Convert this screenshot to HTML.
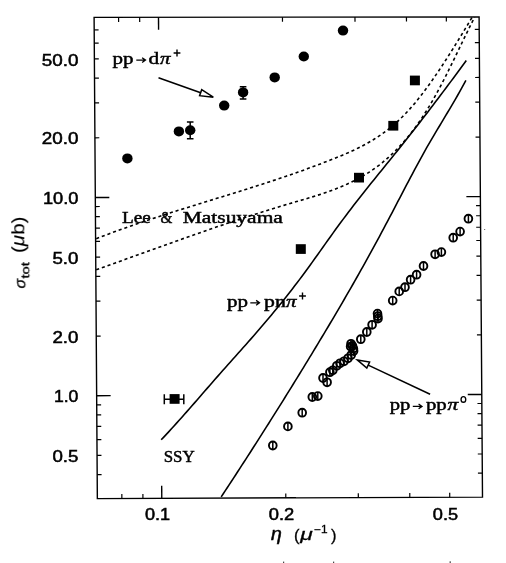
<!DOCTYPE html><html><head><meta charset="utf-8"><style>html,body{margin:0;padding:0;background:#fff;}svg{display:block;}</style></head><body><svg width="506" height="563" viewBox="0 0 506 563">
<defs><filter id="b" x="0" y="0" width="506" height="563" filterUnits="userSpaceOnUse"><feGaussianBlur stdDeviation="0.4"/></filter></defs>
<rect width="506" height="563" fill="#fff"/>
<g filter="url(#b)">
<g fill="none" stroke="#000" stroke-linecap="butt">
<polygon points="94.10,17.40 479.10,16.90 482.50,497.10 97.35,498.60" stroke-width="1.4"/>
<line x1="94.18" y1="29.91" x2="98.58" y2="29.91" stroke-width="1.2"/>
<line x1="479.19" y1="29.39" x2="474.79" y2="29.39" stroke-width="1.2"/>
<line x1="94.27" y1="43.19" x2="98.67" y2="43.18" stroke-width="1.2"/>
<line x1="479.28" y1="42.63" x2="474.88" y2="42.64" stroke-width="1.2"/>
<line x1="94.38" y1="58.89" x2="98.78" y2="58.88" stroke-width="1.2"/>
<line x1="479.39" y1="58.30" x2="474.99" y2="58.31" stroke-width="1.2"/>
<line x1="94.51" y1="78.10" x2="98.91" y2="78.09" stroke-width="1.2"/>
<line x1="479.53" y1="77.47" x2="475.13" y2="77.48" stroke-width="1.2"/>
<line x1="94.68" y1="102.87" x2="99.08" y2="102.86" stroke-width="1.2"/>
<line x1="479.70" y1="102.19" x2="475.30" y2="102.20" stroke-width="1.2"/>
<line x1="94.91" y1="137.78" x2="99.31" y2="137.77" stroke-width="1.2"/>
<line x1="479.95" y1="137.03" x2="475.55" y2="137.04" stroke-width="1.2"/>
<line x1="95.38" y1="206.53" x2="99.78" y2="206.52" stroke-width="1.2"/>
<line x1="480.44" y1="205.64" x2="476.04" y2="205.65" stroke-width="1.2"/>
<line x1="95.45" y1="216.68" x2="99.85" y2="216.67" stroke-width="1.2"/>
<line x1="480.51" y1="215.76" x2="476.11" y2="215.77" stroke-width="1.2"/>
<line x1="95.52" y1="228.17" x2="99.92" y2="228.16" stroke-width="1.2"/>
<line x1="480.59" y1="227.24" x2="476.19" y2="227.25" stroke-width="1.2"/>
<line x1="95.61" y1="241.45" x2="100.01" y2="241.44" stroke-width="1.2"/>
<line x1="480.68" y1="240.48" x2="476.28" y2="240.49" stroke-width="1.2"/>
<line x1="95.72" y1="257.14" x2="100.12" y2="257.13" stroke-width="1.2"/>
<line x1="480.79" y1="256.15" x2="476.39" y2="256.16" stroke-width="1.2"/>
<line x1="95.85" y1="276.36" x2="100.25" y2="276.35" stroke-width="1.2"/>
<line x1="480.93" y1="275.32" x2="476.53" y2="275.33" stroke-width="1.2"/>
<line x1="96.02" y1="301.13" x2="100.42" y2="301.12" stroke-width="1.2"/>
<line x1="481.10" y1="300.04" x2="476.70" y2="300.05" stroke-width="1.2"/>
<line x1="96.25" y1="336.04" x2="100.65" y2="336.03" stroke-width="1.2"/>
<line x1="481.35" y1="334.88" x2="476.95" y2="334.89" stroke-width="1.2"/>
<line x1="96.72" y1="404.79" x2="101.12" y2="404.78" stroke-width="1.2"/>
<line x1="481.84" y1="403.49" x2="477.44" y2="403.50" stroke-width="1.2"/>
<line x1="96.78" y1="414.93" x2="101.19" y2="414.92" stroke-width="1.2"/>
<line x1="481.91" y1="413.61" x2="477.51" y2="413.62" stroke-width="1.2"/>
<line x1="96.86" y1="426.43" x2="101.26" y2="426.42" stroke-width="1.2"/>
<line x1="481.99" y1="425.08" x2="477.59" y2="425.10" stroke-width="1.2"/>
<line x1="96.95" y1="439.70" x2="101.35" y2="439.69" stroke-width="1.2"/>
<line x1="482.08" y1="438.33" x2="477.68" y2="438.34" stroke-width="1.2"/>
<line x1="97.06" y1="455.40" x2="101.46" y2="455.39" stroke-width="1.2"/>
<line x1="482.19" y1="453.99" x2="477.79" y2="454.01" stroke-width="1.2"/>
<line x1="97.19" y1="474.62" x2="101.59" y2="474.60" stroke-width="1.2"/>
<line x1="482.33" y1="473.17" x2="477.93" y2="473.18" stroke-width="1.2"/>
<line x1="95.32" y1="197.46" x2="109.32" y2="197.43" stroke-width="1.4"/>
<line x1="480.37" y1="196.59" x2="466.37" y2="196.62" stroke-width="1.4"/>
<line x1="96.66" y1="395.72" x2="110.66" y2="395.67" stroke-width="1.4"/>
<line x1="481.77" y1="394.44" x2="467.77" y2="394.48" stroke-width="1.4"/>
<line x1="118.59" y1="17.37" x2="118.62" y2="21.97" stroke-width="1.2"/>
<line x1="121.85" y1="498.50" x2="121.82" y2="494.11" stroke-width="1.2"/>
<line x1="139.66" y1="17.34" x2="139.69" y2="21.94" stroke-width="1.2"/>
<line x1="142.92" y1="498.42" x2="142.89" y2="494.02" stroke-width="1.2"/>
<line x1="282.46" y1="17.16" x2="282.50" y2="21.75" stroke-width="1.2"/>
<line x1="285.79" y1="497.87" x2="285.76" y2="493.47" stroke-width="1.2"/>
<line x1="354.98" y1="17.06" x2="355.01" y2="21.65" stroke-width="1.2"/>
<line x1="358.33" y1="497.58" x2="358.30" y2="493.19" stroke-width="1.2"/>
<line x1="406.43" y1="16.99" x2="406.46" y2="21.59" stroke-width="1.2"/>
<line x1="409.80" y1="497.38" x2="409.77" y2="492.99" stroke-width="1.2"/>
<line x1="446.34" y1="16.94" x2="446.37" y2="21.53" stroke-width="1.2"/>
<line x1="449.72" y1="497.23" x2="449.69" y2="492.84" stroke-width="1.2"/>
<line x1="158.50" y1="17.32" x2="158.59" y2="29.81" stroke-width="1.4"/>
<line x1="161.78" y1="498.35" x2="161.69" y2="485.86" stroke-width="1.4"/>
<path d="M96.20,238.72 L99.36,237.50 L102.51,236.29 L105.67,235.09 L108.83,233.91 L111.99,232.74 L115.14,231.58 L118.30,230.43 L121.46,229.30 L124.61,228.17 L127.77,227.06 L130.93,225.95 L134.09,224.86 L137.24,223.77 L140.40,222.70 L143.56,221.63 L146.71,220.57 L149.87,219.52 L153.03,218.48 L156.19,217.44 L159.34,216.41 L162.50,215.39 L165.66,214.37 L168.81,213.36 L171.97,212.36 L175.13,211.36 L178.29,210.36 L181.44,209.37 L184.60,208.38 L187.76,207.39 L190.91,206.41 L194.07,205.43 L197.23,204.45 L200.39,203.48 L203.54,202.50 L206.70,201.53 L209.86,200.56 L213.01,199.58 L216.17,198.61 L219.33,197.64 L222.49,196.66 L225.64,195.69 L228.80,194.71 L231.96,193.73 L235.11,192.75 L238.27,191.76 L241.43,190.77 L244.59,189.78 L247.74,188.79 L250.90,187.79 L254.06,186.78 L257.21,185.77 L260.37,184.76 L263.53,183.74 L266.69,182.71 L269.84,181.67 L273.00,180.63 L276.16,179.58 L279.31,178.53 L282.47,177.46 L285.63,176.39 L288.79,175.30 L291.94,174.21 L295.10,173.11 L298.26,172.00 L301.41,170.88 L304.57,169.74 L307.73,168.60 L310.89,167.44 L314.04,166.27 L317.20,165.09 L320.36,163.90 L323.51,162.69 L326.67,161.47 L329.83,160.24 L332.99,158.99 L336.14,157.72 L339.30,156.44 L342.46,155.14 L345.61,153.80 L348.77,152.43 L351.93,151.01 L355.09,149.54 L358.24,148.02 L361.40,146.43 L364.56,144.77 L367.71,143.03 L370.87,141.20 L374.03,139.28 L377.19,137.27 L380.34,135.15 L383.50,132.91 L386.66,130.56 L389.81,128.08 L392.97,125.47 L396.13,122.71 L399.29,119.82 L402.44,116.76 L405.60,113.55 L408.76,110.17 L411.91,106.62 L415.07,102.92 L418.23,99.05 L421.39,95.05 L424.54,90.90 L427.70,86.63 L430.86,82.24 L434.01,77.73 L437.17,73.12 L440.33,68.41 L443.49,63.61 L446.64,58.72 L449.80,53.77 L452.96,48.75 L456.11,43.67 L459.27,38.54 L462.43,33.37 L465.59,28.17 L468.74,22.94 L471.90,17.69" stroke-width="1.6" stroke-dasharray="3.1 2.9"/>
<path d="M96.20,269.68 L99.38,268.56 L102.56,267.44 L105.74,266.31 L108.92,265.18 L112.10,264.05 L115.28,262.91 L118.46,261.78 L121.64,260.64 L124.82,259.50 L128.00,258.36 L131.18,257.22 L134.36,256.08 L137.54,254.94 L140.72,253.80 L143.90,252.66 L147.08,251.52 L150.26,250.37 L153.44,249.23 L156.62,248.09 L159.80,246.95 L162.98,245.82 L166.16,244.68 L169.34,243.54 L172.52,242.41 L175.70,241.28 L178.88,240.15 L182.06,239.02 L185.24,237.90 L188.42,236.78 L191.59,235.66 L194.77,234.54 L197.95,233.43 L201.13,232.32 L204.31,231.22 L207.49,230.12 L210.67,229.02 L213.85,227.93 L217.03,226.85 L220.21,225.76 L223.39,224.69 L226.57,223.61 L229.75,222.55 L232.93,221.49 L236.11,220.43 L239.29,219.38 L242.47,218.34 L245.65,217.31 L248.83,216.28 L252.01,215.25 L255.19,214.24 L258.37,213.23 L261.55,212.22 L264.73,211.22 L267.91,210.23 L271.09,209.25 L274.27,208.27 L277.45,207.30 L280.63,206.33 L283.81,205.37 L286.99,204.42 L290.17,203.47 L293.35,202.53 L296.53,201.59 L299.71,200.66 L302.89,199.72 L306.07,198.78 L309.25,197.83 L312.43,196.86 L315.61,195.88 L318.79,194.87 L321.97,193.83 L325.15,192.76 L328.33,191.65 L331.51,190.51 L334.69,189.31 L337.87,188.07 L341.05,186.77 L344.23,185.42 L347.41,184.00 L350.59,182.51 L353.77,180.95 L356.95,179.31 L360.13,177.58 L363.31,175.77 L366.49,173.85 L369.67,171.83 L372.85,169.69 L376.03,167.44 L379.21,165.06 L382.38,162.56 L385.56,159.91 L388.74,157.12 L391.92,154.19 L395.10,151.09 L398.28,147.84 L401.46,144.41 L404.64,140.81 L407.82,137.03 L411.00,133.06 L414.18,128.89 L417.36,124.53 L420.54,119.95 L423.72,115.16 L426.90,110.14 L430.08,104.90 L433.26,99.43 L436.44,93.73 L439.62,87.84 L442.80,81.76 L445.98,75.54 L449.16,69.19 L452.34,62.73 L455.52,56.18 L458.70,49.59 L461.88,42.99 L465.06,36.41 L468.24,29.89 L471.42,23.47 L474.60,17.19" stroke-width="1.6" stroke-dasharray="3.1 2.9"/>
<path d="M161.20,439.82 L163.76,437.10 L166.33,434.36 L168.89,431.59 L171.46,428.79 L174.02,425.97 L176.58,423.14 L179.15,420.28 L181.71,417.41 L184.27,414.52 L186.84,411.62 L189.40,408.70 L191.97,405.78 L194.53,402.85 L197.09,399.91 L199.66,396.97 L202.22,394.02 L204.79,391.08 L207.35,388.13 L209.91,385.19 L212.48,382.26 L215.04,379.33 L217.61,376.40 L220.17,373.49 L222.73,370.59 L225.30,367.70 L227.86,364.82 L230.42,361.94 L232.99,359.06 L235.55,356.19 L238.12,353.31 L240.68,350.44 L243.24,347.55 L245.81,344.67 L248.37,341.77 L250.94,338.86 L253.50,335.94 L256.06,333.00 L258.63,330.04 L261.19,327.07 L263.75,324.07 L266.32,321.06 L268.88,318.01 L271.45,314.95 L274.01,311.86 L276.57,308.74 L279.14,305.59 L281.70,302.42 L284.27,299.22 L286.83,295.99 L289.39,292.72 L291.96,289.43 L294.52,286.11 L297.08,282.75 L299.65,279.36 L302.21,275.93 L304.78,272.47 L307.34,268.98 L309.90,265.45 L312.47,261.90 L315.03,258.32 L317.60,254.73 L320.16,251.13 L322.72,247.52 L325.29,243.91 L327.85,240.31 L330.42,236.72 L332.98,233.15 L335.54,229.59 L338.11,226.07 L340.67,222.58 L343.23,219.12 L345.80,215.70 L348.36,212.31 L350.93,208.94 L353.49,205.61 L356.05,202.30 L358.62,199.02 L361.18,195.75 L363.75,192.51 L366.31,189.28 L368.87,186.07 L371.44,182.87 L374.00,179.68 L376.56,176.50 L379.13,173.33 L381.69,170.16 L384.26,167.00 L386.82,163.83 L389.38,160.67 L391.95,157.50 L394.51,154.32 L397.08,151.13 L399.64,147.94 L402.20,144.73 L404.77,141.51 L407.33,138.28 L409.89,135.03 L412.46,131.77 L415.02,128.49 L417.59,125.20 L420.15,121.90 L422.71,118.58 L425.28,115.25 L427.84,111.91 L430.41,108.56 L432.97,105.20 L435.53,101.82 L438.10,98.44 L440.66,95.04 L443.23,91.64 L445.79,88.22 L448.35,84.80 L450.92,81.36 L453.48,77.92 L456.04,74.47 L458.61,71.01 L461.17,67.54 L463.74,64.06 L466.30,60.58" stroke-width="1.6"/>
<path d="M221.20,496.93 L223.26,493.80 L225.31,490.67 L227.37,487.54 L229.43,484.40 L231.48,481.25 L233.54,478.10 L235.59,474.94 L237.65,471.78 L239.71,468.62 L241.76,465.44 L243.82,462.27 L245.88,459.08 L247.93,455.90 L249.99,452.70 L252.04,449.50 L254.10,446.30 L256.16,443.09 L258.21,439.87 L260.27,436.65 L262.33,433.42 L264.38,430.18 L266.44,426.94 L268.49,423.70 L270.55,420.44 L272.61,417.18 L274.66,413.92 L276.72,410.65 L278.78,407.37 L280.83,404.09 L282.89,400.80 L284.95,397.50 L287.00,394.20 L289.06,390.89 L291.11,387.58 L293.17,384.25 L295.23,380.93 L297.28,377.59 L299.34,374.25 L301.40,370.90 L303.45,367.55 L305.51,364.18 L307.56,360.81 L309.62,357.44 L311.68,354.06 L313.73,350.67 L315.79,347.27 L317.85,343.86 L319.90,340.45 L321.96,337.03 L324.02,333.61 L326.07,330.17 L328.13,326.72 L330.18,323.27 L332.24,319.80 L334.30,316.32 L336.35,312.83 L338.41,309.34 L340.47,305.82 L342.52,302.30 L344.58,298.76 L346.63,295.21 L348.69,291.65 L350.75,288.07 L352.80,284.48 L354.86,280.88 L356.92,277.25 L358.97,273.61 L361.03,269.96 L363.08,266.29 L365.14,262.60 L367.20,258.90 L369.25,255.17 L371.31,251.43 L373.37,247.67 L375.42,243.89 L377.48,240.09 L379.54,236.27 L381.59,232.43 L383.65,228.58 L385.70,224.70 L387.76,220.82 L389.82,216.92 L391.87,213.01 L393.93,209.09 L395.99,205.17 L398.04,201.23 L400.10,197.30 L402.15,193.36 L404.21,189.42 L406.27,185.49 L408.32,181.57 L410.38,177.66 L412.44,173.78 L414.49,169.92 L416.55,166.08 L418.61,162.28 L420.66,158.51 L422.72,154.79 L424.77,151.10 L426.83,147.47 L428.89,143.89 L430.94,140.35 L433.00,136.84 L435.06,133.37 L437.11,129.92 L439.17,126.48 L441.22,123.06 L443.28,119.64 L445.34,116.21 L447.39,112.78 L449.45,109.34 L451.51,105.87 L453.56,102.37 L455.62,98.84 L457.67,95.27 L459.73,91.65 L461.79,87.98 L463.84,84.24 L465.90,80.44" stroke-width="1.6"/>
</g>
<g fill="#000" stroke="#000" stroke-width="1.5">
<ellipse cx="127.4" cy="158.4" rx="5.2" ry="5.0" stroke="none"/>
<ellipse cx="178.9" cy="131.4" rx="5.2" ry="5.0" stroke="none"/>
<ellipse cx="190.2" cy="130.2" rx="5.2" ry="5.0" stroke="none"/>
<path d="M190.2,121.9 V138.8 M186.9,121.9 h6.6 M186.9,138.8 h6.6" fill="none"/>
<ellipse cx="224.2" cy="105.6" rx="5.2" ry="5.0" stroke="none"/>
<ellipse cx="243.1" cy="92.4" rx="5.2" ry="5.0" stroke="none"/>
<path d="M243.1,86.7 V98.9 M239.8,86.7 h6.6 M239.8,98.9 h6.6" fill="none"/>
<ellipse cx="274.7" cy="77.4" rx="5.2" ry="5.0" stroke="none"/>
<ellipse cx="303.8" cy="56.5" rx="5.2" ry="5.0" stroke="none"/>
<ellipse cx="343.0" cy="30.6" rx="5.2" ry="5.0" stroke="none"/>
<rect x="295.8" y="244.2" width="10" height="9.7" stroke="none"/>
<rect x="354.0" y="172.8" width="10" height="9.7" stroke="none"/>
<rect x="388.3" y="120.9" width="10" height="9.7" stroke="none"/>
<rect x="409.9" y="75.6" width="10" height="9.7" stroke="none"/>
<rect x="169.6" y="394.1" width="10" height="9.7" stroke="none"/>
<path d="M163.8,399.3 H184.3 M164.3,394.2 V404.3 M183.8,394.2 V404.3" fill="none" stroke-width="1.5"/>
</g>
<g fill="none" stroke="#000" stroke-width="1.9">
<ellipse cx="272.8" cy="445.5" rx="3.85" ry="3.95"/><path d="M272.8,441.5 v8" stroke-width="1.5"/>
<ellipse cx="287.9" cy="426.4" rx="3.85" ry="3.95"/><path d="M287.9,422.4 v8" stroke-width="1.5"/>
<ellipse cx="302.2" cy="412.7" rx="3.85" ry="3.95"/><path d="M302.2,408.7 v8" stroke-width="1.5"/>
<ellipse cx="312.3" cy="397.0" rx="3.85" ry="3.95"/><path d="M312.3,393.0 v8" stroke-width="1.5"/>
<ellipse cx="317.8" cy="396.1" rx="3.85" ry="3.95"/><path d="M317.8,392.1 v8" stroke-width="1.5"/>
<ellipse cx="323.0" cy="378.0" rx="3.85" ry="3.95"/><path d="M323.0,374.0 v8" stroke-width="1.5"/>
<ellipse cx="327.1" cy="382.3" rx="3.85" ry="3.95"/><path d="M327.1,378.3 v8" stroke-width="1.5"/>
<ellipse cx="329.9" cy="372.2" rx="3.85" ry="3.95"/><path d="M329.9,368.2 v8" stroke-width="1.5"/>
<ellipse cx="332.8" cy="370.3" rx="3.85" ry="3.95"/><path d="M332.8,366.3 v8" stroke-width="1.5"/>
<ellipse cx="336.8" cy="365.8" rx="3.85" ry="3.95"/><path d="M336.8,361.8 v8" stroke-width="1.5"/>
<ellipse cx="340.0" cy="363.3" rx="3.85" ry="3.95"/><path d="M340.0,359.3 v8" stroke-width="1.5"/>
<ellipse cx="344.0" cy="361.3" rx="3.85" ry="3.95"/><path d="M344.0,357.3 v8" stroke-width="1.5"/>
<ellipse cx="348.0" cy="358.3" rx="3.85" ry="3.95"/><path d="M348.0,354.3 v8" stroke-width="1.5"/>
<ellipse cx="351.2" cy="355.0" rx="3.85" ry="3.95"/><path d="M351.2,351.0 v8" stroke-width="1.5"/>
<ellipse cx="353.6" cy="351.0" rx="3.85" ry="3.95"/><path d="M353.6,347.0 v8" stroke-width="1.5"/>
<ellipse cx="351.0" cy="343.8" rx="3.85" ry="3.95"/><path d="M351.0,339.8 v8" stroke-width="1.5"/>
<ellipse cx="352.5" cy="346.0" rx="3.85" ry="3.95"/><path d="M352.5,342.0 v8" stroke-width="1.5"/>
<ellipse cx="353.4" cy="348.6" rx="3.85" ry="3.95"/><path d="M353.4,344.6 v8" stroke-width="1.5"/>
<ellipse cx="350.6" cy="346.6" rx="3.85" ry="3.95"/><path d="M350.6,342.6 v8" stroke-width="1.5"/>
<ellipse cx="360.8" cy="339.2" rx="3.85" ry="3.95"/><path d="M360.8,335.2 v8" stroke-width="1.5"/>
<ellipse cx="366.8" cy="332.0" rx="3.85" ry="3.95"/><path d="M366.8,328.0 v8" stroke-width="1.5"/>
<ellipse cx="372.1" cy="324.8" rx="3.85" ry="3.95"/><path d="M372.1,320.8 v8" stroke-width="1.5"/>
<ellipse cx="377.5" cy="313.6" rx="3.85" ry="3.95"/><path d="M377.5,309.6 v8" stroke-width="1.5"/>
<ellipse cx="377.8" cy="316.2" rx="3.85" ry="3.95"/><path d="M377.8,312.2 v8" stroke-width="1.5"/>
<ellipse cx="378.0" cy="318.6" rx="3.85" ry="3.95"/><path d="M378.0,314.6 v8" stroke-width="1.5"/>
<ellipse cx="392.7" cy="300.6" rx="3.85" ry="3.95"/><path d="M392.7,296.6 v8" stroke-width="1.5"/>
<ellipse cx="399.2" cy="291.4" rx="3.85" ry="3.95"/><path d="M399.2,287.4 v8" stroke-width="1.5"/>
<ellipse cx="405.0" cy="287.2" rx="3.85" ry="3.95"/><path d="M405.0,283.2 v8" stroke-width="1.5"/>
<ellipse cx="410.6" cy="279.7" rx="3.85" ry="3.95"/><path d="M410.6,275.7 v8" stroke-width="1.5"/>
<ellipse cx="416.6" cy="274.7" rx="3.85" ry="3.95"/><path d="M416.6,270.7 v8" stroke-width="1.5"/>
<ellipse cx="423.5" cy="266.0" rx="3.85" ry="3.95"/><path d="M423.5,262.0 v8" stroke-width="1.5"/>
<ellipse cx="435.1" cy="254.3" rx="3.85" ry="3.95"/><path d="M435.1,250.3 v8" stroke-width="1.5"/>
<ellipse cx="441.4" cy="252.1" rx="3.85" ry="3.95"/><path d="M441.4,248.1 v8" stroke-width="1.5"/>
<ellipse cx="453.2" cy="237.7" rx="3.85" ry="3.95"/><path d="M453.2,233.7 v8" stroke-width="1.5"/>
<ellipse cx="460.1" cy="231.6" rx="3.85" ry="3.95"/><path d="M460.1,227.6 v8" stroke-width="1.5"/>
<ellipse cx="468.4" cy="218.7" rx="3.85" ry="3.95"/><path d="M468.4,214.7 v8" stroke-width="1.5"/>
</g>
<g fill="#fff" stroke="#000" stroke-width="1.5" stroke-linejoin="miter"><path d="M158.5,77.7 L200.7,92.7" /><path d="M213.3,97.2 L199.6,95.7 L201.7,89.7 Z"/></g>
<g fill="#fff" stroke="#000" stroke-width="1.5" stroke-linejoin="miter"><path d="M430.1,394.3 L368.2,365.1" /><path d="M357.5,360.1 L369.6,362.1 L366.8,368.1 Z"/></g>
<g fill="#000" stroke="#000" stroke-width="0.5">
<text x="41.7" y="65.5" font-family="Liberation Sans" font-size="15.8"  textLength="36.7" lengthAdjust="spacingAndGlyphs">50.0</text>
<text x="41.7" y="144.4" font-family="Liberation Sans" font-size="15.8"  textLength="36.7" lengthAdjust="spacingAndGlyphs">20.0</text>
<text x="42.9" y="204.1" font-family="Liberation Sans" font-size="15.8"  textLength="35.5" lengthAdjust="spacingAndGlyphs">10.0</text>
<text x="52.4" y="263.8" font-family="Liberation Sans" font-size="15.8"  textLength="26.0" lengthAdjust="spacingAndGlyphs">5.0</text>
<text x="52.4" y="342.7" font-family="Liberation Sans" font-size="15.8"  textLength="26.0" lengthAdjust="spacingAndGlyphs">2.0</text>
<text x="53.9" y="402.4" font-family="Liberation Sans" font-size="15.8"  textLength="24.5" lengthAdjust="spacingAndGlyphs">1.0</text>
<text x="52.4" y="462.1" font-family="Liberation Sans" font-size="15.8"  textLength="26.0" lengthAdjust="spacingAndGlyphs">0.5</text>
<text x="144.9" y="519.5" font-family="Liberation Sans" font-size="15.8"  textLength="25.2" lengthAdjust="spacingAndGlyphs">0.1</text>
<text x="268.7" y="519.5" font-family="Liberation Sans" font-size="15.8"  textLength="25.5" lengthAdjust="spacingAndGlyphs">0.2</text>
<text x="432.8" y="519.5" font-family="Liberation Sans" font-size="15.8"  textLength="25.3" lengthAdjust="spacingAndGlyphs">0.5</text>
</g>
<g fill="#000" stroke="#000" stroke-width="0.45">
<text x="122.1" y="222.7" font-family="Liberation Serif" font-size="16"  textLength="28.8" lengthAdjust="spacingAndGlyphs">Lee</text>
<text x="160.5" y="222.7" font-family="Liberation Serif" font-size="16"  textLength="11.8" lengthAdjust="spacingAndGlyphs">&amp;</text>
<text x="182.7" y="222.5" font-family="Liberation Serif" font-size="16"  textLength="100.2" lengthAdjust="spacingAndGlyphs">Matsuyama</text>
<text x="163.7" y="462.0" font-family="Liberation Serif" font-size="17"  textLength="31.0" lengthAdjust="spacingAndGlyphs">SSY</text>
<text x="112.5" y="64.2" font-family="Liberation Serif" font-size="16.5"  textLength="21.0" lengthAdjust="spacingAndGlyphs">pp</text>
<text x="148.6" y="64.2" font-family="Liberation Serif" font-size="16.5"  textLength="10.7" lengthAdjust="spacingAndGlyphs">d</text>
<text x="160.0" y="64.2" font-family="Liberation Serif" font-size="16.5" font-style="italic" textLength="10.5" lengthAdjust="spacingAndGlyphs">π</text>
<text x="227.1" y="306.7" font-family="Liberation Serif" font-size="16.5"  textLength="21.0" lengthAdjust="spacingAndGlyphs">pp</text>
<text x="264.1" y="306.7" font-family="Liberation Serif" font-size="16.5"  textLength="21.7" lengthAdjust="spacingAndGlyphs">pn</text>
<text x="286.0" y="306.7" font-family="Liberation Serif" font-size="16.5" font-style="italic" textLength="10.5" lengthAdjust="spacingAndGlyphs">π</text>
<text x="389.8" y="409.9" font-family="Liberation Serif" font-size="16.5"  textLength="20.6" lengthAdjust="spacingAndGlyphs">pp</text>
<text x="425.9" y="409.9" font-family="Liberation Serif" font-size="16.5"  textLength="20.8" lengthAdjust="spacingAndGlyphs">pp</text>
<text x="447.4" y="409.9" font-family="Liberation Serif" font-size="16.5" font-style="italic" textLength="10.7" lengthAdjust="spacingAndGlyphs">π</text>
</g>
<path d="M173.6,53.0 h6.8 M177.0,49.6 v6.8" fill="none" stroke="#000" stroke-width="1.4"/>
<path d="M299.1,296.0 h6.8 M302.5,292.6 v6.8" fill="none" stroke="#000" stroke-width="1.4"/>
<ellipse cx="463.4" cy="399.4" rx="2.35" ry="2.85" fill="none" stroke="#000" stroke-width="1.35"/>
<path d="M136.3,60.1 h9 m-3.2,-2.4 l3.4,2.4 l-3.4,2.4" fill="none" stroke="#000" stroke-width="1.3"/>
<path d="M250.3,302.8 h9 m-3.2,-2.4 l3.4,2.4 l-3.4,2.4" fill="none" stroke="#000" stroke-width="1.3"/>
<path d="M412.8,406.4 h9 m-3.2,-2.4 l3.4,2.4 l-3.4,2.4" fill="none" stroke="#000" stroke-width="1.3"/>
<g fill="#000" stroke="#000" stroke-width="0.3">
<text x="271.0" y="540.0" font-family="Liberation Sans" font-size="17.5" font-style="italic" stroke-width="0.5" textLength="10.8" lengthAdjust="spacingAndGlyphs">η</text>
<text x="294.0" y="541.0" font-family="Liberation Sans" font-size="16.5" >(</text>
<text x="300.2" y="540.3" font-family="Liberation Sans" font-size="16.5" font-style="italic" textLength="12.5" lengthAdjust="spacingAndGlyphs">μ</text>
<text x="314.2" y="533.3" font-family="Liberation Sans" font-size="10"  textLength="13.5" lengthAdjust="spacingAndGlyphs">−1</text>
<text x="331.0" y="541.0" font-family="Liberation Sans" font-size="16.5" >)</text>
<g transform="translate(25.3,289) rotate(-90)">
<text x="0.5" y="0.0" font-family="Liberation Sans" font-size="15" font-style="italic" textLength="9.6" lengthAdjust="spacingAndGlyphs">σ</text>
<text x="10.5" y="4.0" font-family="Liberation Sans" font-size="10.5"  textLength="16.5" lengthAdjust="spacingAndGlyphs">tot</text>
<text x="36.0" y="-1.0" font-family="Liberation Sans" font-size="18.5" stroke-width="0.1" textLength="36.5" lengthAdjust="spacingAndGlyphs">(<tspan font-style="italic">μ</tspan>b)</text>
</g></g>
<rect x="283" y="561.6" width="1.2" height="1.4" fill="#444"/><rect x="333" y="561.6" width="1.2" height="1.4" fill="#444"/><rect x="449.6" y="561.3" width="1.2" height="1.7" fill="#444"/><rect x="484" y="229" width="1.2" height="1" fill="#777"/>
</g>
</svg></body></html>
